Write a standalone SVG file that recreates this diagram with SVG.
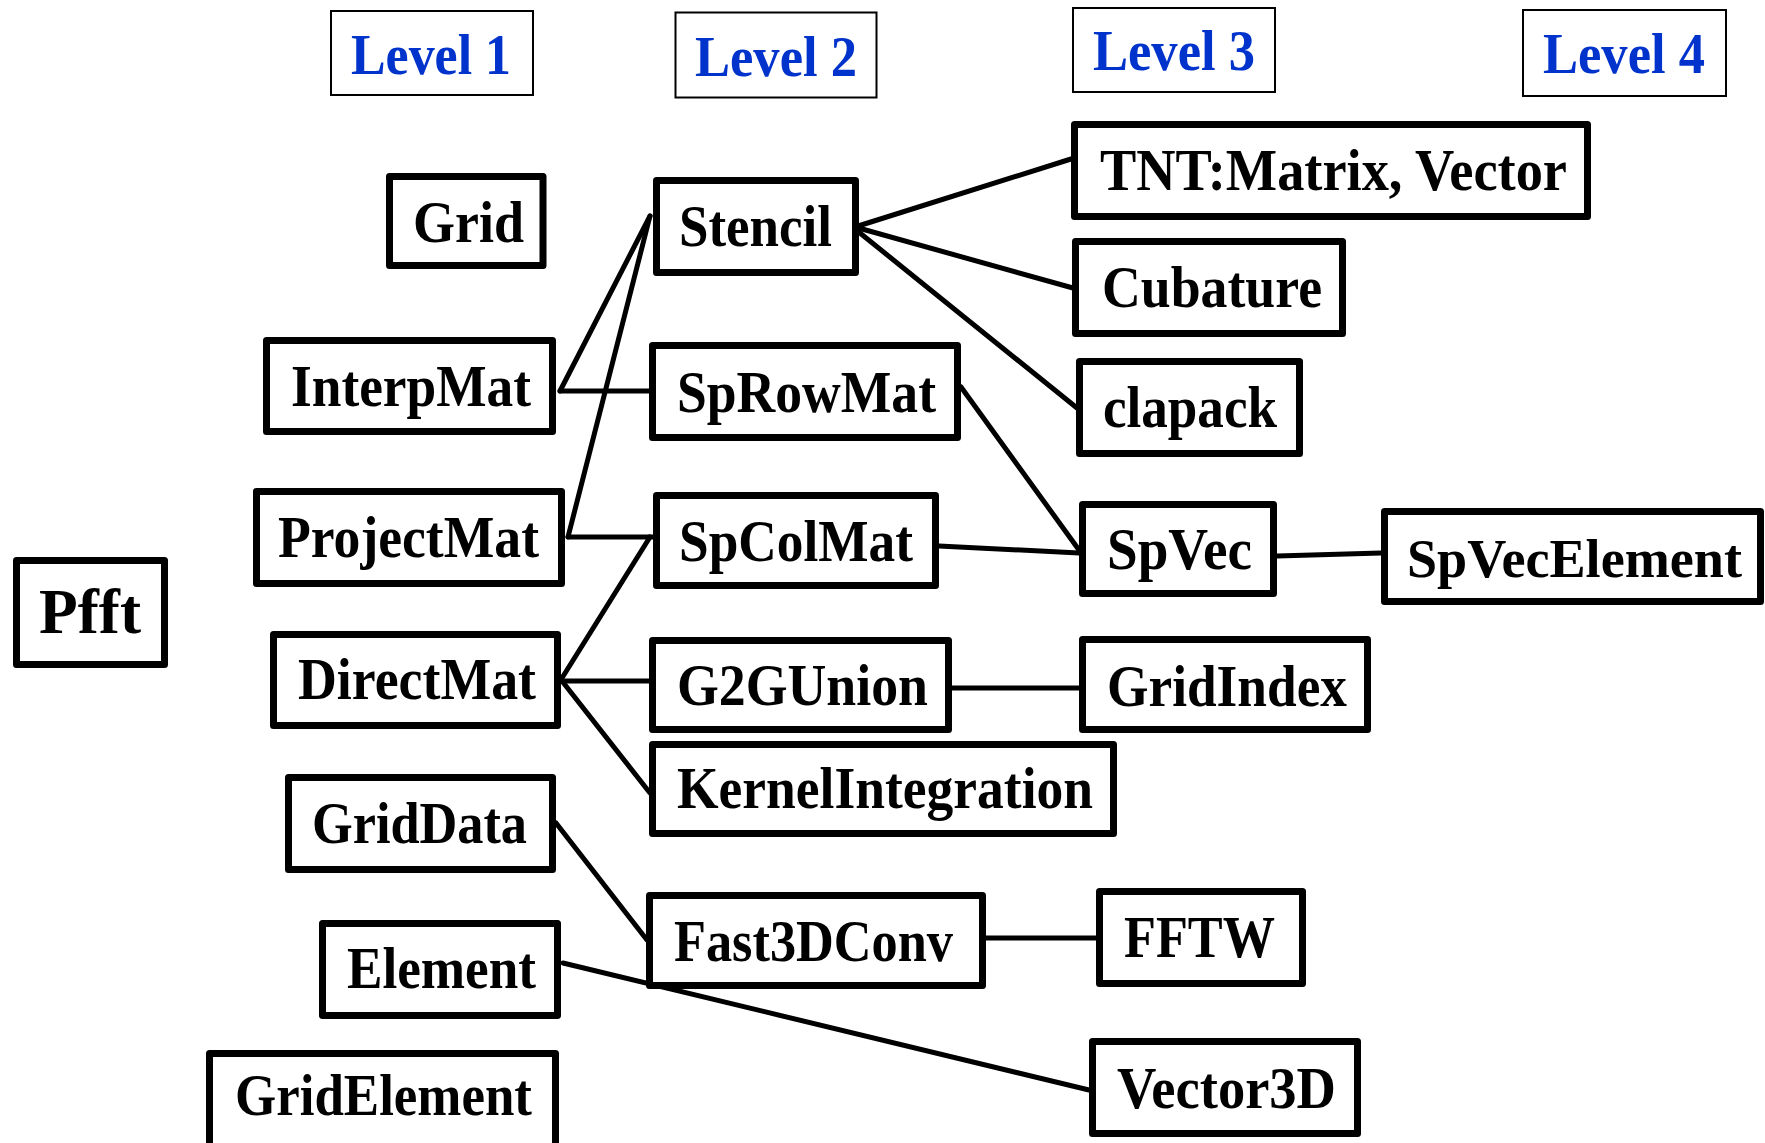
<svg xmlns="http://www.w3.org/2000/svg" width="1765" height="1143" viewBox="0 0 1765 1143">
<style>
.n rect{fill:#fff;stroke:#000;stroke-width:7;stroke-linejoin:round}
.n text{font-family:"Liberation Serif","Times New Roman",serif;font-weight:bold;font-size:59px;fill:#000}
.lv rect{fill:#fff;stroke:#000;stroke-width:2}
.lv text{font-family:"Liberation Serif","Times New Roman",serif;font-weight:bold;font-size:57px;fill:#0033cc}
#edges line{stroke:#000;stroke-width:5;stroke-linecap:round}
</style>
<rect width="1765" height="1143" fill="#fff"/>
<g id="edges">
<line x1="560" y1="391" x2="650" y2="216"/>
<line x1="568" y1="537" x2="650" y2="216"/>
<line x1="560" y1="391" x2="649" y2="391"/>
<line x1="568" y1="537" x2="653" y2="537"/>
<line x1="562" y1="678" x2="650" y2="537"/>
<line x1="562" y1="681" x2="649" y2="681"/>
<line x1="562" y1="681" x2="650" y2="793"/>
<line x1="556" y1="823" x2="647" y2="940"/>
<line x1="563" y1="963" x2="1089" y2="1090"/>
<line x1="986" y1="938" x2="1096" y2="938"/>
<line x1="855" y1="227" x2="1071" y2="159"/>
<line x1="855" y1="227" x2="1073" y2="288"/>
<line x1="855" y1="229" x2="1077" y2="408"/>
<line x1="961" y1="387" x2="1079" y2="550"/>
<line x1="939" y1="546" x2="1079" y2="553"/>
<line x1="1277" y1="556" x2="1381" y2="553"/>
<line x1="952" y1="688" x2="1079" y2="688"/>
</g>
<g id="level1" class="lv"><rect x="331" y="11" width="202" height="84"/><text x="351" y="74" textLength="160" lengthAdjust="spacingAndGlyphs">Level 1</text></g>
<g id="level2" class="lv"><rect x="675.5" y="12.5" width="201" height="85"/><text x="695" y="76" textLength="162" lengthAdjust="spacingAndGlyphs">Level 2</text></g>
<g id="level3" class="lv"><rect x="1073" y="8" width="202" height="84"/><text x="1093" y="70" textLength="162" lengthAdjust="spacingAndGlyphs">Level 3</text></g>
<g id="level4" class="lv"><rect x="1523" y="10" width="203" height="86"/><text x="1543" y="73" textLength="162" lengthAdjust="spacingAndGlyphs">Level 4</text></g>

<g id="Pfft" class="n"><rect x="16.5" y="560.5" width="148" height="104"/><text x="39" y="633" style="font-size:64px" textLength="102" lengthAdjust="spacingAndGlyphs">Pfft</text></g>
<g id="Grid" class="n"><rect x="389.5" y="176.5" width="153.5" height="89"/><text x="413" y="242" textLength="111" lengthAdjust="spacingAndGlyphs">Grid</text></g>
<g id="InterpMat" class="n"><rect x="266.5" y="340.5" width="286" height="91"/><text x="291" y="406" textLength="240" lengthAdjust="spacingAndGlyphs">InterpMat</text></g>
<g id="ProjectMat" class="n"><rect x="256.5" y="491.5" width="305" height="92"/><text x="278" y="557" textLength="261" lengthAdjust="spacingAndGlyphs">ProjectMat</text></g>
<g id="DirectMat" class="n"><rect x="273.5" y="634.5" width="284" height="91"/><text x="298" y="699" textLength="238" lengthAdjust="spacingAndGlyphs">DirectMat</text></g>
<g id="GridData" class="n"><rect x="288.5" y="777.5" width="264" height="92"/><text x="312" y="843" textLength="215" lengthAdjust="spacingAndGlyphs">GridData</text></g>
<g id="Element" class="n"><rect x="322.5" y="923.5" width="235" height="92"/><text x="347" y="988" textLength="189" lengthAdjust="spacingAndGlyphs">Element</text></g>
<g id="GridElement" class="n"><rect x="209.5" y="1053.5" width="346" height="100"/><text x="235" y="1115" textLength="297" lengthAdjust="spacingAndGlyphs">GridElement</text></g>

<g id="Stencil" class="n"><rect x="656.5" y="180.5" width="199" height="92"/><text x="679" y="246" textLength="153" lengthAdjust="spacingAndGlyphs">Stencil</text></g>
<g id="SpRowMat" class="n"><rect x="652.5" y="345.5" width="305" height="92"/><text x="677" y="412" textLength="259" lengthAdjust="spacingAndGlyphs">SpRowMat</text></g>
<g id="SpColMat" class="n"><rect x="656.5" y="495.5" width="279" height="90"/><text x="679" y="561" textLength="234" lengthAdjust="spacingAndGlyphs">SpColMat</text></g>
<g id="G2GUnion" class="n"><rect x="652.5" y="640.5" width="296" height="89"/><text x="677" y="705" textLength="251" lengthAdjust="spacingAndGlyphs">G2GUnion</text></g>
<g id="KernelIntegration" class="n"><rect x="652.5" y="744.5" width="461" height="89"/><text x="677" y="808" textLength="416" lengthAdjust="spacingAndGlyphs">KernelIntegration</text></g>
<g id="Fast3DConv" class="n"><rect x="649.5" y="895.5" width="333" height="90"/><text x="674" y="961" textLength="279" lengthAdjust="spacingAndGlyphs">Fast3DConv</text></g>

<g id="TNT" class="n"><rect x="1074.5" y="124.5" width="513" height="92"/><text x="1100" y="190" textLength="467" lengthAdjust="spacingAndGlyphs">TNT:Matrix, Vector</text></g>
<g id="Cubature" class="n"><rect x="1075.5" y="241.5" width="267" height="92"/><text x="1102" y="307" textLength="220" lengthAdjust="spacingAndGlyphs">Cubature</text></g>
<g id="clapack" class="n"><rect x="1079.5" y="361.5" width="220" height="92"/><text x="1103" y="427" textLength="174" lengthAdjust="spacingAndGlyphs">clapack</text></g>
<g id="SpVec" class="n"><rect x="1082.5" y="504.5" width="191" height="89"/><text x="1107" y="569" textLength="145" lengthAdjust="spacingAndGlyphs">SpVec</text></g>
<g id="GridIndex" class="n"><rect x="1082.5" y="639.5" width="285" height="90"/><text x="1107" y="706" textLength="240" lengthAdjust="spacingAndGlyphs">GridIndex</text></g>
<g id="FFTW" class="n"><rect x="1099.5" y="891.5" width="203" height="92"/><text x="1124" y="957" textLength="151" lengthAdjust="spacingAndGlyphs">FFTW</text></g>
<g id="Vector3D" class="n"><rect x="1092.5" y="1041.5" width="265" height="92"/><text x="1117" y="1108" textLength="219" lengthAdjust="spacingAndGlyphs">Vector3D</text></g>
<g id="SpVecElement" class="n"><rect x="1384.5" y="511.5" width="376" height="90"/><text x="1407" y="577" style="font-size:55px" textLength="335" lengthAdjust="spacingAndGlyphs">SpVecElement</text></g>
</svg>
